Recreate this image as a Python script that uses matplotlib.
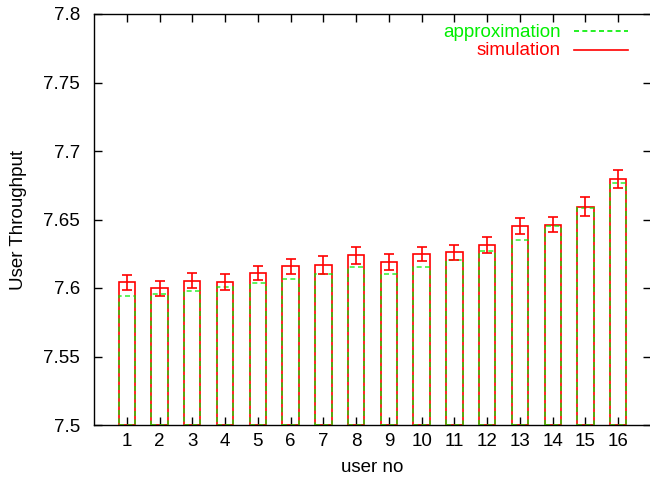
import matplotlib
matplotlib.use("Agg")
import matplotlib.pyplot as plt
import numpy as np

plt.rcParams['font.family'] = ['Liberation Sans', 'DejaVu Sans']

users = list(range(1, 17))
simulation = [7.6042, 7.5998, 7.6053, 7.6042, 7.6112, 7.6158, 7.6166, 7.6239,
              7.6188, 7.6246, 7.6261, 7.6311, 7.6453, 7.6462, 7.6594, 7.6793]
sim_err = [0.0055, 0.0055, 0.0055, 0.0060, 0.0051, 0.0055, 0.0065, 0.0061,
           0.0058, 0.0051, 0.0053, 0.0058, 0.0060, 0.0055, 0.0072, 0.0065]
approximation = [7.5942, 7.5958, 7.5978, 7.6005, 7.6034, 7.6066, 7.6104, 7.6151,
                 7.6104, 7.6151, 7.6207, 7.6270, 7.6348, 7.6450, 7.6581, 7.6766]
yticks = [7.5, 7.55, 7.6, 7.65, 7.7, 7.75, 7.8]
ytick_labels = ['7.5', '7.55', '7.6', '7.65', '7.7', '7.75', '7.8']

base = 7.5
RED = '#ff0000'
GREEN = '#00ee00'

fig = plt.figure(figsize=(6.5, 4.83), dpi=100)
ax = fig.add_axes([94/650, 58/483, 557/650, 411/483])

x = np.array(users)
ax.bar(x, np.array(simulation) - base, bottom=base, width=0.5, fill=False,
       edgecolor=RED, linewidth=1.2, zorder=2)
ax.bar(x, np.array(approximation) - base, bottom=base, width=0.5, fill=False,
       edgecolor=GREEN, linewidth=1.2, linestyle=(0, (3, 2)), alpha=0.75,
       zorder=3)
ax.errorbar(x, simulation, yerr=sim_err, fmt='none', ecolor=RED,
            elinewidth=1.2, capsize=3.4, capthick=1.2, zorder=4)

ax.set_xlim(0, 17)
ax.set_ylim(7.5, 7.8)
ax.set_xticks(users)
ax.set_xticklabels([str(u) for u in users])
ax.set_yticks(yticks)
ax.set_yticklabels(ytick_labels)

ax.tick_params(axis='both', direction='in', length=5.5, width=1,
               top=True, right=True, labelsize=13.5, colors='black')
ax.tick_params(axis='y', pad=10)
ax.tick_params(axis='x', pad=6)
for s in ax.spines.values():
    s.set_linewidth(1)
    s.set_color('black')

ax.set_xlabel('user no', fontsize=13.5, labelpad=6)
ax.set_ylabel('User Throughput', fontsize=13.5, labelpad=12)

# legend (key) drawn gnuplot-style: right-aligned text, then sample line
ax.text(0.838, 0.955, 'approximation', color=GREEN, fontsize=13.5,
        ha='right', va='center', transform=ax.transAxes)
ax.plot([0.862, 0.959], [0.9586, 0.9586], color=GREEN, linewidth=1.2,
        linestyle=(0, (3, 2)), transform=ax.transAxes, clip_on=False)
ax.text(0.838, 0.910, 'simulation', color=RED, fontsize=13.5,
        ha='right', va='center', transform=ax.transAxes)
ax.plot([0.862, 0.959], [0.912, 0.912], color=RED, linewidth=1.2,
        transform=ax.transAxes, clip_on=False)

fig.savefig('out.png', dpi=100)
